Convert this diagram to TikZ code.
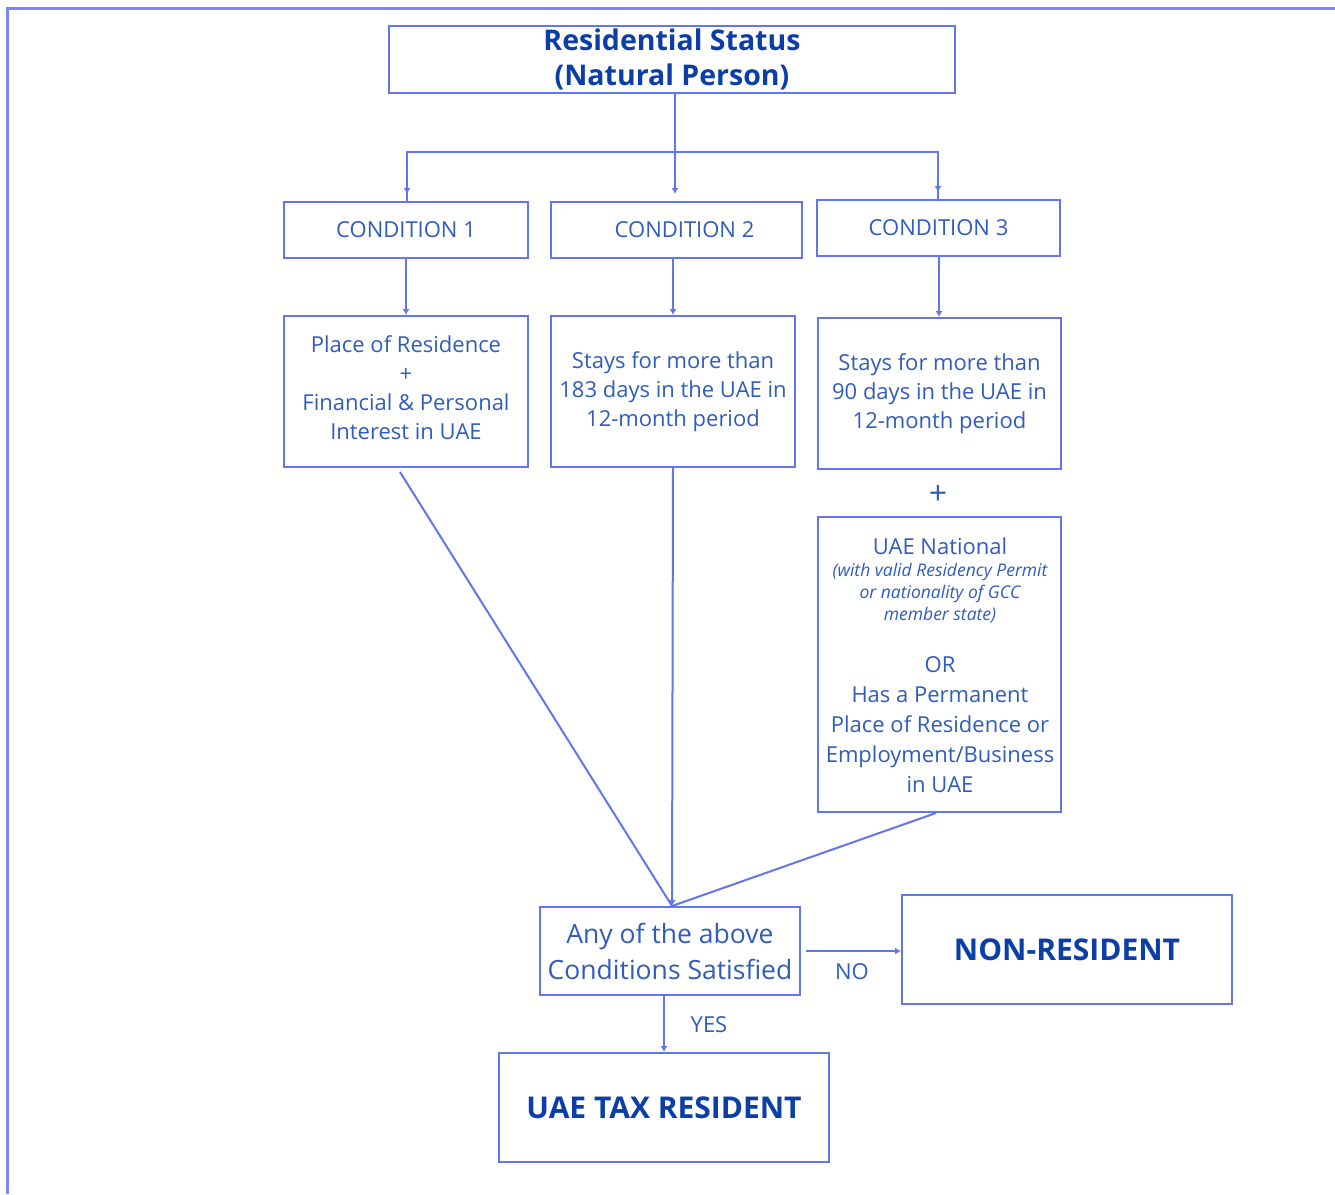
\documentclass[tikz,border=0pt]{standalone}
\usepackage{fontspec}
\setmainfont{Open Sans}
\usetikzlibrary{arrows.meta}
\definecolor{bord}{RGB}{98,118,238}
\definecolor{txt}{RGB}{48,92,190}
\definecolor{dark}{RGB}{12,62,168}
\begin{document}
\begin{tikzpicture}[x=1pt,y=-1pt,
  box/.style={draw=bord,line width=2pt,inner sep=0pt,align=center,text=txt,font=\fontsize{22}{29}\selectfont},
  txtnode/.style={inner sep=0pt,align=center,text=txt,font=\fontsize{22}{29}\selectfont},
  conn/.style={draw=bord,line width=2pt},
  arr/.style={conn,-{Latex[length=6pt,width=7pt]}}]
\useasboundingbox (0,0) rectangle (1335,1194);
\fill[white] (0,0) rectangle (1335,1194);
\draw[bord!85,line width=3pt] (7,1194) -- (7,8) -- (1335,8);

\node[box,minimum width=566pt,minimum height=67pt,text=dark,font=\bfseries\fontsize{28.5}{35}\selectfont] (title) at (672,59.5) {Residential Status\\(Natural Person)};

\node[box,minimum width=244pt,minimum height=56pt] (c1) at (406,230) {CONDITION 1};
\node[box,minimum width=251pt,minimum height=56pt] (c2) at (676.5,230) {\hspace*{16pt}CONDITION 2};
\node[box,minimum width=243pt,minimum height=56pt] (c3) at (938.5,228) {CONDITION 3};

\node[box,minimum width=244pt,minimum height=151pt,label={[txtnode,yshift=4pt]center:{Place of Residence\\+\\Financial \& Personal\\Interest in UAE}}] (b1) at (406,391.5) {};
\node[box,minimum width=244pt,minimum height=151pt] (b2) at (673,391.5) {Stays for more than\\183 days in the UAE in\\12-month period};
\node[box,minimum width=243pt,minimum height=151pt] (b3) at (939.5,393.5) {Stays for more than\\90 days in the UAE in\\12-month period};

\node[txtnode,font=\fontsize{32}{36}\selectfont] (plus) at (938,495) {+};

\node[box,minimum width=243pt,minimum height=295pt] (b4) at (939.5,664.5) {};
\node[txtnode] (b4a) at (940,546) {UAE National};
\node[txtnode,font=\itshape\fontsize{17.5}{22}\selectfont] (b4b) at (940,593) {(with valid Residency Permit\\or nationality of GCC\\member state)};
\node[txtnode,font=\fontsize{22}{30}\selectfont] (b4c) at (940,724.5) {OR\\Has a Permanent\\Place of Residence or\\Employment/Business\\in UAE};

\node[box,minimum width=260pt,minimum height=88pt,font=\fontsize{26.5}{36}\selectfont] (dec) at (670,951) {Any of the above\\Conditions Satisfied};
\node[box,minimum width=330pt,minimum height=109pt,text=dark,font=\bfseries\fontsize{30}{34}\selectfont] (nonres) at (1067,949.5) {NON-RESIDENT};
\node[box,minimum width=330pt,minimum height=109pt,text=dark,font=\bfseries\fontsize{30}{34}\selectfont] (taxres) at (664,1107.5) {UAE TAX RESIDENT};

% tree from title
\coordinate (j) at (675,152);
\draw[conn] (title.south -| j) -- (j);
\draw[conn] (j) -| ([xshift=1pt]c1.north);
\draw[conn] (j) -| ([xshift=-0.5pt]c3.north);
\draw[arr,shorten >=7pt] (j) -- (j |- c2.north);
\draw[arr,shorten >=7pt] ([xshift=1pt]c1.north |- j) -- ([xshift=1pt]c1.north);
\draw[arr,shorten >=7pt] ([xshift=-0.5pt]c3.north |- j) -- ([xshift=-0.5pt]c3.north);

% conditions to boxes
\draw[arr] (c1.south) -- (b1.north);
\draw[arr] ([xshift=-3.5pt]c2.south) -- ([xshift=-3.5pt]c2.south |- b2.north);
\draw[arr] ([xshift=0.5pt]c3.south) -- ([xshift=0.5pt]c3.south |- b3.north);

% to decision
\coordinate (m) at ([xshift=2pt]dec.north);
\draw[conn] ([xshift=-6pt,yshift=-4pt]b1.south) -- (m);
\draw[arr] (b2.south) -- (m);
\draw[conn] ([xshift=-3.5pt]b4.south) -- (m);

% outcomes
\draw[arr] ([xshift=5pt]dec.east) -- (nonres.west |- dec.east);
\node[txtnode] (no) at (852,972) {NO};
\draw[arr] ([xshift=-6pt]dec.south) -- ([xshift=-6pt]dec.south |- taxres.north);
\node[txtnode] (yes) at (709,1025) {YES};
\end{tikzpicture}
\end{document}
